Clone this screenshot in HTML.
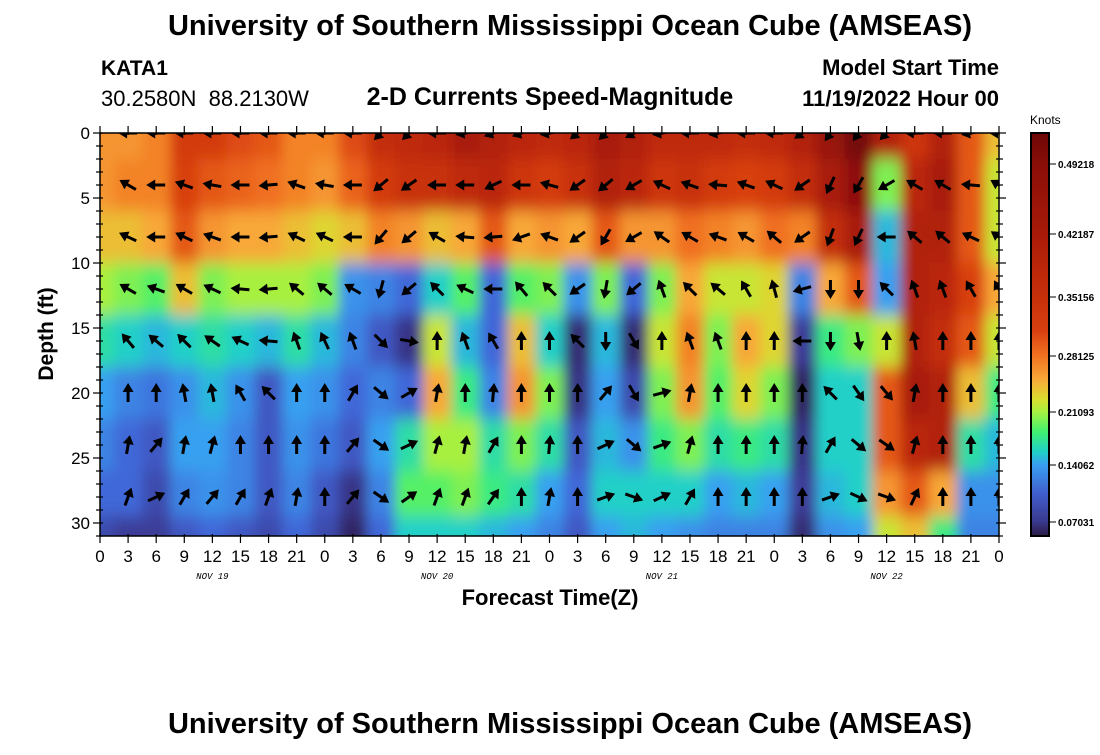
<!DOCTYPE html>
<html><head><meta charset="utf-8">
<style>
body{margin:0;background:#fff;}
svg text{font-family:"Liberation Sans",sans-serif;}
</style></head>
<body>
<svg id="chart" width="1100" height="750" viewBox="0 0 1100 750" xmlns="http://www.w3.org/2000/svg">
<defs>
<clipPath id="plotclip"><rect x="100" y="133" width="899" height="403"/></clipPath>
<filter id="smooth" x="-5%" y="-5%" width="110%" height="110%"><feGaussianBlur stdDeviation="6 8" edgeMode="duplicate"/></filter>
<linearGradient id="cbgrad" x1="0" y1="133" x2="0" y2="537" gradientUnits="userSpaceOnUse">
<stop offset="0" stop-color="#6e0606"/>
<stop offset="0.08" stop-color="#8a0e08"/>
<stop offset="0.25" stop-color="#a81a08"/>
<stop offset="0.41" stop-color="#c8300a"/>
<stop offset="0.49" stop-color="#d84010"/>
<stop offset="0.55" stop-color="#f07020"/>
<stop offset="0.61" stop-color="#f8a838"/>
<stop offset="0.66" stop-color="#d8e030"/>
<stop offset="0.69" stop-color="#a8f040"/>
<stop offset="0.74" stop-color="#40f070"/>
<stop offset="0.79" stop-color="#20d0c8"/>
<stop offset="0.82" stop-color="#38a0f0"/>
<stop offset="0.89" stop-color="#4060d0"/>
<stop offset="0.96" stop-color="#3a3a90"/>
<stop offset="1" stop-color="#2a1840"/>
</linearGradient>
</defs>
<text x="570" y="35" text-anchor="middle" font-size="29" font-weight="bold">University of Southern Mississippi Ocean Cube (AMSEAS)</text>
<text x="101" y="75" font-size="21" font-weight="bold">KATA1</text>
<text x="101" y="106" font-size="22" xml:space="preserve">30.2580N  88.2130W</text>
<text x="550" y="105" text-anchor="middle" font-size="25" font-weight="bold">2-D Currents Speed-Magnitude</text>
<text x="999" y="75" text-anchor="end" font-size="22" font-weight="bold">Model Start Time</text>
<text x="999" y="106" text-anchor="end" font-size="22" font-weight="bold">11/19/2022 Hour 00</text>
<g clip-path="url(#plotclip)"><g id="heat" filter="url(#smooth)"></g></g>
<g id="arrows" clip-path="url(#plotclip)"></g>
<rect x="100" y="133" width="899" height="403" fill="none" stroke="#000" stroke-width="1.5"/>
<g id="axes"></g>
<text transform="translate(53,334) rotate(-90)" text-anchor="middle" font-size="21" font-weight="bold">Depth (ft)</text>
<text x="550" y="605" text-anchor="middle" font-size="22" font-weight="bold">Forecast Time(Z)</text>
<text x="1030" y="124" font-size="12">Knots</text>
<rect x="1031" y="133" width="18" height="403" fill="url(#cbgrad)" stroke="#000" stroke-width="2"/>
<g id="cbticks"></g>
<text x="570" y="733" text-anchor="middle" font-size="29" font-weight="bold">University of Southern Mississippi Ocean Cube (AMSEAS)</text>
</svg>
<script>
// ---- data ----
const hours = [0,3,6,9,12,15,18,21,24,27,30,33,36,39,42,45,48,51,54,57,60,63,66,69,72,75,78,81,84,87,90,93,96];
const depths = [0,4,8,12,16,20,24,28,31];
// speed (knots) per hour column, values at depths above
const speed = [
[0.26,0.26,0.24,0.21,0.17,0.14,0.12,0.10,0.08],
[0.26,0.27,0.24,0.20,0.16,0.12,0.10,0.10,0.07],
[0.27,0.27,0.25,0.19,0.15,0.11,0.09,0.08,0.07],
[0.33,0.32,0.30,0.24,0.16,0.13,0.14,0.12,0.09],
[0.33,0.30,0.26,0.20,0.17,0.15,0.14,0.13,0.10],
[0.31,0.29,0.25,0.21,0.16,0.13,0.12,0.12,0.09],
[0.30,0.28,0.25,0.21,0.15,0.09,0.09,0.09,0.08],
[0.27,0.27,0.24,0.21,0.17,0.14,0.13,0.12,0.10],
[0.27,0.26,0.23,0.20,0.15,0.13,0.11,0.09,0.08],
[0.31,0.29,0.24,0.13,0.12,0.10,0.09,0.06,0.04],
[0.36,0.33,0.27,0.12,0.09,0.12,0.14,0.12,0.10],
[0.37,0.35,0.26,0.10,0.06,0.10,0.17,0.19,0.16],
[0.38,0.35,0.24,0.16,0.22,0.25,0.21,0.19,0.16],
[0.42,0.37,0.25,0.19,0.15,0.18,0.21,0.20,0.16],
[0.40,0.38,0.30,0.10,0.10,0.12,0.17,0.18,0.15],
[0.38,0.34,0.25,0.19,0.24,0.26,0.20,0.17,0.14],
[0.37,0.33,0.26,0.20,0.16,0.20,0.17,0.14,0.12],
[0.38,0.35,0.25,0.13,0.05,0.06,0.09,0.10,0.09],
[0.42,0.40,0.30,0.20,0.15,0.14,0.15,0.16,0.14],
[0.40,0.38,0.26,0.10,0.05,0.08,0.13,0.16,0.15],
[0.37,0.34,0.26,0.20,0.22,0.20,0.18,0.16,0.14],
[0.37,0.35,0.28,0.25,0.27,0.26,0.20,0.16,0.13],
[0.37,0.33,0.27,0.22,0.20,0.19,0.17,0.14,0.12],
[0.36,0.32,0.26,0.22,0.25,0.23,0.18,0.15,0.12],
[0.37,0.33,0.28,0.23,0.23,0.20,0.17,0.14,0.12],
[0.40,0.36,0.27,0.12,0.07,0.04,0.06,0.07,0.05],
[0.46,0.42,0.36,0.25,0.18,0.16,0.16,0.15,0.13],
[0.52,0.48,0.42,0.30,0.20,0.16,0.16,0.16,0.14],
[0.40,0.20,0.15,0.14,0.22,0.30,0.30,0.26,0.22],
[0.34,0.38,0.40,0.40,0.40,0.42,0.38,0.30,0.24],
[0.40,0.42,0.40,0.38,0.36,0.40,0.40,0.25,0.18],
[0.30,0.30,0.30,0.32,0.30,0.24,0.17,0.13,0.12],
[0.24,0.22,0.22,0.25,0.22,0.18,0.15,0.13,0.12]
];
const arrowHours = [3,6,9,12,15,18,21,24,27,30,33,36,39,42,45,48,51,54,57,60,63,66,69,72,75,78,81,84,87,90,93,96];
const arrowDepths = [0,4,8,12,16,20,24,28];
// direction (deg, 0=up/north, 90=right) per arrow depth row
const dir0 =  [270,270,270,270,270,270,270,270,270,225,225,270,260,250,250,260,230,225,240,260,270,260,270,270,235,215,215,225,270,270,260,270];
const dir4 =  [300,270,290,280,270,265,290,280,270,230,235,270,270,245,270,285,235,230,240,295,290,275,290,295,235,205,210,240,300,300,275,300];
const dir8 =  [295,270,295,290,270,265,295,295,270,220,230,300,275,265,250,290,235,210,240,305,300,290,300,310,235,200,205,270,310,310,295,305];
const dir12 = [300,290,300,295,275,265,310,310,300,195,230,315,295,270,320,315,235,190,230,340,315,310,330,345,255,180,180,315,340,340,330,330];
const dir16 = [320,310,315,305,295,275,340,335,340,135,100,0,340,330,0,0,315,180,150,0,340,340,0,0,270,180,170,0,350,0,0,0];
const dir20 = [0,0,350,350,330,315,0,0,30,130,60,10,0,5,0,0,0,40,150,75,10,0,0,0,0,315,145,140,10,0,0,0];
const dir24 = [10,40,10,15,0,0,0,0,40,125,65,15,10,30,0,5,0,65,130,70,15,0,0,0,5,30,130,125,15,0,0,0];
const dir28 = [20,65,30,40,30,20,10,0,40,125,55,20,20,35,0,10,0,70,110,65,30,0,0,0,0,70,115,110,25,0,0,0];
const dirRows = [dir0,dir4,dir8,dir12,dir16,dir20,dir24,dir28];
const yTicks = [0,5,10,15,20,25,30];
const xTickLabels = ["0","3","6","9","12","15","18","21","0","3","6","9","12","15","18","21","0","3","6","9","12","15","18","21","0","3","6","9","12","15","18","21","0"];
const dayLabels = ["NOV 19","NOV 20","NOV 21","NOV 22"];
const dayHours = [12,36,60,84];
const cbValues = ["0.49218","0.42187","0.35156","0.28125","0.21093","0.14062","0.07031"];
const cbY = [164,234,297,356,412,465,522];

// ---- scales ----
const NS="http://www.w3.org/2000/svg";
const X0=100,X1=999,Y0=133,DMAX=31,HMAX=96;
function xs(h){return X0+h*(X1-X0)/HMAX;}
function ys(d){return Y0+d*13;}
const stops=[[0,[42,24,64]],[0.04,[50,40,100]],[0.07,[60,60,152]],[0.10,[64,104,216]],[0.14,[56,160,240]],[0.16,[32,208,200]],[0.185,[64,240,112]],[0.21,[168,240,64]],[0.225,[216,224,48]],[0.25,[248,168,56]],[0.28,[240,112,32]],[0.32,[216,64,16]],[0.35,[200,48,10]],[0.42,[168,26,8]],[0.49,[138,14,8]],[0.53,[110,6,6]]];
function color(v){
  if(v<=stops[0][0]) return 'rgb('+stops[0][1]+')';
  for(let i=1;i<stops.length;i++){
    if(v<=stops[i][0]){
      const a=stops[i-1],b=stops[i],t=(v-a[0])/(b[0]-a[0]);
      const c=a[1].map((x,k)=>Math.round(x+(b[1][k]-x)*t));
      return 'rgb('+c+')';
    }
  }
  return 'rgb('+stops[stops.length-1][1]+')';
}
function mk(tag,attrs,parent){const e=document.createElementNS(NS,tag);for(const k in attrs)e.setAttribute(k,attrs[k]);parent.appendChild(e);return e;}

// ---- heatmap cells ----
const heat=document.getElementById('heat');
hours.forEach((h,i)=>{
  const xa = i===0 ? xs(h)-30 : (xs(hours[i-1])+xs(h))/2;
  const xb = i===hours.length-1 ? xs(h)+30 : (xs(hours[i+1])+xs(h))/2;
  depths.forEach((d,j)=>{
    const ya = j===0 ? ys(d)-30 : (ys(depths[j-1])+ys(d))/2;
    const yb = j===depths.length-1 ? ys(d)+30 : (ys(depths[j+1])+ys(d))/2;
    const r=mk('rect',{x:xa,y:ya,width:xb-xa+0.5,height:yb-ya+0.5,fill:color(speed[i][j])},heat);
    
    
  });
});

// ---- arrows ----
const ag=document.getElementById('arrows');
arrowDepths.forEach((d,j)=>{
  arrowHours.forEach((h,i)=>{
    const g=mk('g',{transform:'translate('+xs(h)+','+ys(d)+') rotate('+dirRows[j][i]+')'},ag);
    
    
    mk('line',{x1:0,y1:9,x2:0,y2:-3,stroke:'#000','stroke-width':3},g);
    mk('polygon',{points:'0,-10 -5.5,-1 5.5,-1',fill:'#000'},g);
  });
});

// ---- axes ----
const ax=document.getElementById('axes');
for(let d=0;d<=DMAX;d++){
  const y=ys(d),L=(d%5===0)?7:4;
  mk('line',{x1:X0-L,y1:y,x2:X0+3,y2:y,stroke:'#000','stroke-width':1.2},ax);
  mk('line',{x1:X1-3,y1:y,x2:X1+L,y2:y,stroke:'#000','stroke-width':1.2},ax);
}
yTicks.forEach(d=>{
  const t=mk('text',{x:X0-10,y:ys(d)+6,'text-anchor':'end','font-size':17},ax);
  t.textContent=d;
  
  
});
hours.forEach((h,i)=>{
  const x=xs(h);
  mk('line',{x1:x,y1:Y0-7,x2:x,y2:Y0+2,stroke:'#000','stroke-width':1.2},ax);
  mk('line',{x1:x,y1:ys(DMAX)-2,x2:x,y2:ys(DMAX)+7,stroke:'#000','stroke-width':1.2},ax);
  const t=mk('text',{x:x,y:562,'text-anchor':'middle','font-size':17},ax);
  t.textContent=xTickLabels[i];
  
  
});
dayLabels.forEach((s,i)=>{
  const t=mk('text',{x:xs(dayHours[i]),y:579,'text-anchor':'middle','font-size':9,'font-style':'italic'},ax);
  t.setAttribute('style','font-family:"Liberation Mono",monospace');
  t.textContent=s;
  
  
});
const cb=document.getElementById('cbticks');
cbValues.forEach((s,i)=>{
  mk('line',{x1:1049,y1:cbY[i],x2:1056,y2:cbY[i],stroke:'#000','stroke-width':1},cb);
  const t=mk('text',{x:1058,y:cbY[i]+4,'font-size':10,'font-weight':'bold'},cb);
  t.textContent=s;
  
  
});
</script>
</body></html>
